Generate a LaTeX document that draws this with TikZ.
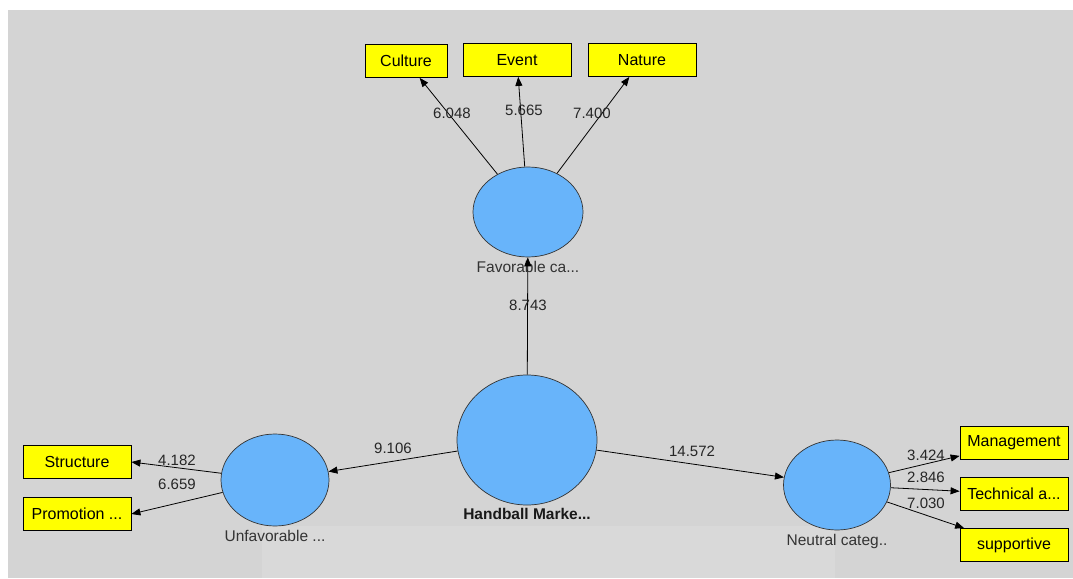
\documentclass[tikz,border=0pt]{standalone}
\usepackage{fontspec}
\setmainfont{Liberation Sans}
\usetikzlibrary{arrows.meta,shapes.geometric}
\definecolor{bggrey}{RGB}{212,212,212}
\definecolor{bglight}{RGB}{217,217,217}
\definecolor{indyellow}{RGB}{255,255,0}
\definecolor{latblue}{RGB}{104,180,250}
\begin{document}
\begin{tikzpicture}[x=1pt,y=-1pt,
  ind/.style={draw=black,fill=indyellow,line width=0.8pt,minimum width=108pt,
    minimum height=33pt,inner sep=0pt,font=\fontsize{16}{18}\selectfont},
  lat/.style={ellipse,draw=black!80,fill=latblue,line width=0.7pt,inner sep=0pt},
  lbl/.style={font=\fontsize{15.5}{17}\selectfont,text=black!80,inner sep=1pt},
  val/.style={font=\fontsize{15}{17}\selectfont,text=black!85,inner sep=0pt},
  arr/.style={-{Triangle[length=9pt,width=7pt]},line width=0.8pt}]
\useasboundingbox (0,0) rectangle (1073,578);
\fill[white] (0,0) rectangle (1073,578);
\fill[bggrey] (8,10) rectangle (1073,578);
\fill[bglight] (262,526) rectangle (835,578);
% latent variables
\node[lat,minimum width=110pt,minimum height=90pt,
  label={[lbl,yshift=-3pt]below:Favorable ca...}] (fav) at (528,212) {};
\node[lat,minimum width=140pt,minimum height=130pt,
  label={[lbl,font=\fontsize{15.5}{17}\selectfont\bfseries,text=black!90,yshift=-2pt]below:Handball Marke...}] (hand) at (527,440) {};
\node[lat,minimum width=108pt,minimum height=92pt,
  label={[lbl,yshift=-3pt]below:Unfavorable ...}] (unfav) at (275,480) {};
\node[lat,minimum width=107pt,minimum height=90pt,
  label={[lbl,yshift=-3pt]below:Neutral categ..}] (neut) at (837,485) {};
% indicators
\node[ind,minimum width=82pt] (cult) at (406,61) {Culture};
\node[ind] (event) at (517,60) {Event};
\node[ind] (nat) at (642,60) {Nature};
\node[ind] (struc) at (77,462) {Structure};
\node[ind] (promo) at (77,514) {Promotion ...};
\node[ind] (manag) at (1014,443) {Management};
\node[ind] (tech) at (1014,494) {Technical a...};
\node[ind] (supp) at (1014,545) {supportive};
% paths
\draw[arr] (fav) -- (cult);
\draw[arr] (fav) -- (event);
\draw[arr] (fav) -- (nat);
\draw[arr] (hand) -- (fav);
\draw[arr] (hand) -- (unfav);
\draw[arr] (hand) -- (neut);
\draw[arr] (unfav) -- (struc.east);
\draw[arr] (unfav) -- (promo.east);
\draw[arr] (neut) -- (manag);
\draw[arr] (neut) -- (tech);
\draw[arr] (neut) -- (supp);
% path values
\node[val] (vcult) at (452,113) {6.048};
\node[val] (vevent) at (524,110) {5.665};
\node[val] (vnat) at (592,113) {7.400};
\node[val] (vfav) at (528,305) {8.743};
\node[val] (vunfav) at (393,448) {9.106};
\node[val] (vneut) at (692,451) {14.572};
\node[val] (vstruc) at (177,460) {4.182};
\node[val] (vpromo) at (177,484) {6.659};
\node[val] (vmanag) at (926,455) {3.424};
\node[val] (vtech) at (926,477) {2.846};
\node[val] (vsupp) at (926,503) {7.030};
\end{tikzpicture}
\end{document}
